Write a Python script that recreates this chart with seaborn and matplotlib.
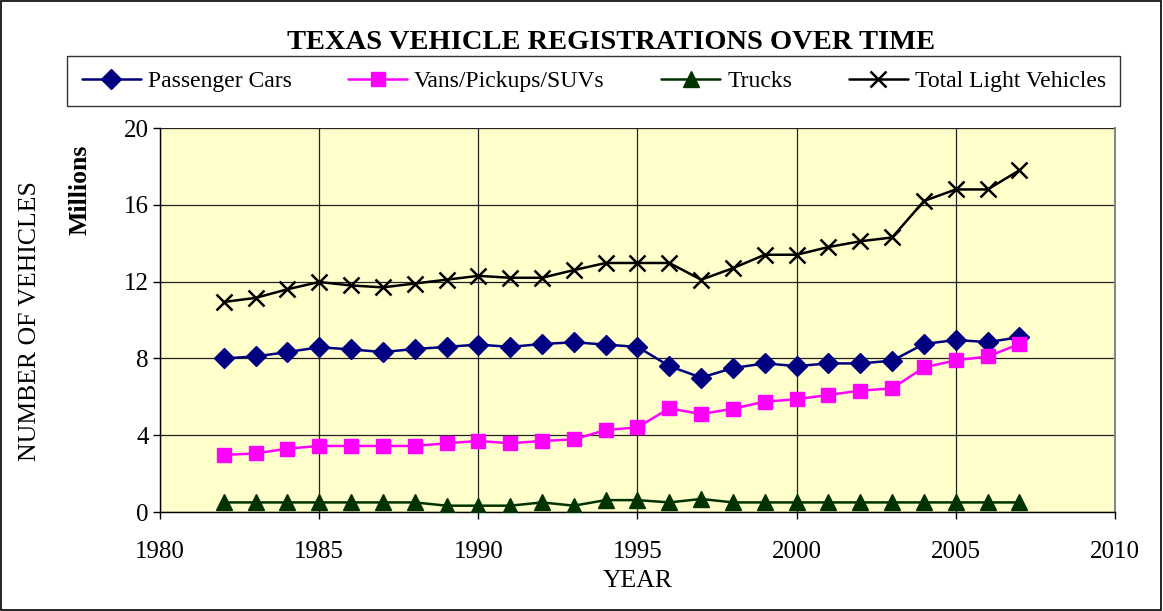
import matplotlib
matplotlib.use("Agg")
import matplotlib.pyplot as plt
import seaborn as sns
import pandas as pd
from matplotlib.patches import Rectangle

years = list(range(1982, 2008))
passenger_cars = [8.0, 8.1, 8.33, 8.58, 8.47, 8.33, 8.49, 8.6, 8.72, 8.6, 8.75, 8.84, 8.72, 8.6,
                  7.6, 7.0, 7.5, 7.74, 7.6, 7.74, 7.74, 7.88, 8.75, 8.96, 8.85, 9.1]
vans_pickups_suvs = [2.97, 3.05, 3.3, 3.44, 3.44, 3.44, 3.44, 3.58, 3.7, 3.58, 3.7, 3.78, 4.27, 4.41,
                     5.4, 5.1, 5.38, 5.75, 5.87, 6.1, 6.32, 6.44, 7.53, 7.9, 8.1, 8.75]
trucks = [0.5, 0.5, 0.5, 0.5, 0.5, 0.5, 0.5, 0.33, 0.33, 0.33, 0.5, 0.33, 0.62, 0.62,
          0.5, 0.68, 0.5, 0.5, 0.5, 0.5, 0.5, 0.5, 0.5, 0.5, 0.5, 0.5]
total_light = [10.94, 11.15, 11.6, 11.98, 11.8, 11.7, 11.9, 12.1, 12.3, 12.2, 12.2, 12.6, 12.97, 12.97,
               12.97, 12.1, 12.7, 13.4, 13.4, 13.8, 14.1, 14.3, 16.2, 16.8, 16.8, 17.8]

series_names = ["Passenger Cars", "Vans/Pickups/SUVs", "Trucks", "Total Light Vehicles"]
x_ticks = [1980, 1985, 1990, 1995, 2000, 2005, 2010]
y_ticks = [0, 4, 8, 12, 16, 20]

sns.set_style("white")
plt.rcParams['font.family'] = ['Liberation Serif', 'DejaVu Serif']
plt.rcParams['text.color'] = 'black'
plt.rcParams['axes.labelcolor'] = 'black'
plt.rcParams['xtick.color'] = 'black'
plt.rcParams['ytick.color'] = 'black'

fig = plt.figure(figsize=(11.63, 6.11), dpi=100)
ax = fig.add_axes([0.1376, 0.162, 0.8211, 0.6285])
ax.set_facecolor("#FFFFCC")

styles = [
    dict(color="#000080", marker="D", markersize=10.5, mec="#000080", mew=1),
    dict(color="#FF00FF", marker="s", markersize=10, mec="#FF00FF", mew=1),
    dict(color="#003300", marker="^", markersize=11, mec="#003300", mew=1),
    dict(color="black", marker="x", markersize=11, mec="black", mew=1.8),
]
data = [passenger_cars, vans_pickups_suvs, trucks, total_light]

for name, vals, st in zip(series_names, data, styles):
    df = pd.DataFrame({"year": years, "value": vals})
    sns.lineplot(data=df, x="year", y="value", ax=ax, color=st["color"], linewidth=1.8,
                 marker=st["marker"], markersize=st["markersize"], markeredgecolor=st["mec"],
                 markeredgewidth=st["mew"], label=name, legend=False, zorder=3)

ax.set_xlim(1980, 2010)
ax.set_ylim(0, 20)
ax.set_xticks(x_ticks)
ax.set_yticks(y_ticks)
ax.tick_params(axis="both", labelsize=18, direction="out", length=5, width=1, color="black",
               bottom=True, left=True)
ax.tick_params(axis="x", pad=16)
ax.tick_params(axis="y", pad=3)
ax.grid(True, color="#222222", linewidth=0.9)
ax.set_axisbelow(True)
for s in ["left", "bottom"]:
    ax.spines[s].set_color("black")
    ax.spines[s].set_linewidth(1)
ax.spines["right"].set_color("#888888")
ax.spines["right"].set_linewidth(1.5)
ax.spines["top"].set_visible(False)

ax.set_xlabel("YEAR", fontsize=18.5, labelpad=5)
ax.set_ylabel("")
fig.text(0.026, 0.475, "NUMBER OF VEHICLES", rotation=90, fontsize=18.5, ha="center", va="center")
fig.text(0.069, 0.689, "Millions", rotation=90, fontsize=18.5, fontweight="bold", ha="center", va="center")

fig.text(0.525, 0.931, "TEXAS VEHICLE REGISTRATIONS OVER TIME", fontsize=20.5, fontweight="bold",
         ha="center", va="center")

handles, labels = ax.get_legend_handles_labels()
leg = fig.legend(handles, labels, ncol=4, loc="lower left",
                 bbox_to_anchor=(0.058, 0.826, 0.905, 0.079), mode="expand",
                 frameon=True, fancybox=False, edgecolor="black", fontsize=17,
                 handlelength=2.5, handletextpad=0.3, borderaxespad=0, borderpad=0.6,
                 shadow=False)
leg.get_frame().set_linewidth(1)

fig.patches.append(Rectangle((0.001, 0.001), 0.997, 0.997, transform=fig.transFigure,
                             fill=False, edgecolor="black", linewidth=1.2))

fig.savefig("out.png", dpi=100)
